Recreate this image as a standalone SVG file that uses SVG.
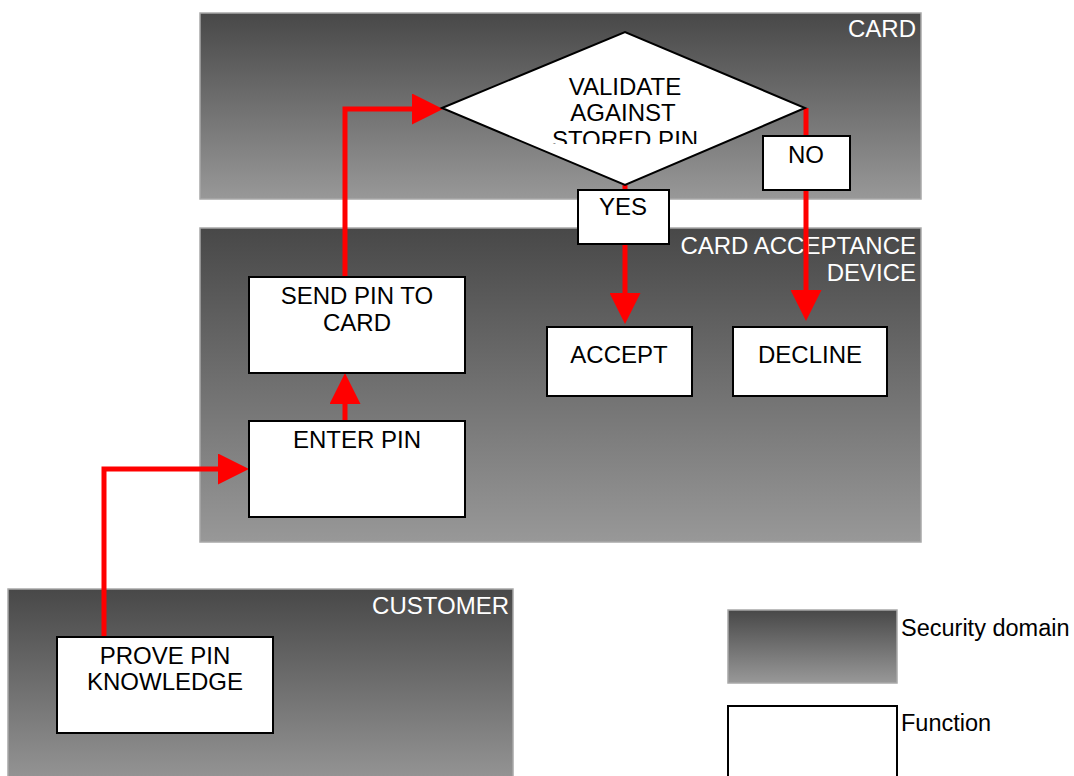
<svg xmlns="http://www.w3.org/2000/svg" width="1074" height="776" viewBox="0 0 1074 776">
<style>
.dom{fill:url(#g);stroke:#a8a8a8;stroke-width:1.5}
.fn{fill:#fff;stroke:#000;stroke-width:2}
.t{font-family:"Liberation Sans",Arial,sans-serif;font-size:24px;fill:#000}
.m{text-anchor:middle}
.e{text-anchor:end}
.w{fill:#fff}
.c{fill:none;stroke:#ff0000;stroke-width:5;marker-end:url(#ah)}
.leg{font-family:"Liberation Sans",Arial,sans-serif;font-size:23.5px;fill:#000}
</style>
<defs>
<linearGradient id="g" x1="0" y1="0" x2="0" y2="1">
<stop offset="0" stop-color="#484848"/>
<stop offset="1" stop-color="#989898"/>
</linearGradient>
<marker id="ah" markerUnits="userSpaceOnUse" markerWidth="31" markerHeight="31" viewBox="0 0 31 31" refX="0" refY="15.5" orient="auto">
<path d="M0,0 L31,15.5 L0,31 z" fill="#ff0000"/>
</marker>
<clipPath id="dc"><rect x="520" y="60" width="210" height="84"/></clipPath>
</defs>

<g id="domain-card">
<rect class="dom" x="200" y="13" width="721" height="186"/>
<text class="t w e" x="916" y="37">CARD</text>
</g>
<g id="domain-cad">
<rect class="dom" x="200" y="228" width="721" height="314"/>
<text class="t w e" x="916" y="254">CARD ACCEPTANCE</text>
<text class="t w e" x="916" y="281">DEVICE</text>
</g>
<g id="domain-customer">
<rect class="dom" x="8" y="589" width="505" height="200"/>
<text class="t w e" x="509" y="614">CUSTOMER</text>
</g>

<g id="connectors">
<path class="c" d="M104,637 V469 H218"/>
<path class="c" d="M345,420 V404"/>
<path class="c" d="M345,276 V109 H412"/>
<path class="c" d="M625,185 V293"/>
<path class="c" d="M806,108 V290"/>
</g>

<g id="node-validate">
<polygon class="fn" points="442,108 625,32 805,108 625,185"/>
<g clip-path="url(#dc)">
<text class="t m" x="625" y="95">VALIDATE</text>
<text class="t m" x="623" y="121">AGAINST</text>
<text class="t m" x="625" y="148">STORED PIN</text>
</g>
</g>
<g id="node-send">
<rect class="fn" x="249" y="277" width="216" height="96"/>
<text class="t m" x="357" y="304">SEND PIN TO</text>
<text class="t m" x="357" y="331">CARD</text>
</g>
<g id="node-enter">
<rect class="fn" x="249" y="421" width="216" height="96"/>
<text class="t m" x="357" y="448">ENTER PIN</text>
</g>
<g id="node-accept">
<rect class="fn" x="547" y="327" width="145" height="69"/>
<text class="t m" x="619" y="363">ACCEPT</text>
</g>
<g id="node-decline">
<rect class="fn" x="733" y="327" width="154" height="69"/>
<text class="t m" x="810" y="363">DECLINE</text>
</g>
<g id="node-prove">
<rect class="fn" x="57" y="637" width="216" height="96"/>
<text class="t m" x="165" y="664">PROVE PIN</text>
<text class="t m" x="165" y="690">KNOWLEDGE</text>
</g>

<g id="label-yes">
<rect class="fn" x="578" y="190" width="91" height="54"/>
<text class="t m" x="623" y="215">YES</text>
</g>
<g id="label-no">
<rect class="fn" x="763" y="136" width="87" height="54"/>
<text class="t m" x="806" y="163">NO</text>
</g>

<g id="legend">
<rect class="dom" x="728" y="610" width="169" height="73"/>
<text class="leg" x="901" y="636">Security domain</text>
<rect class="fn" x="728" y="706" width="169" height="80"/>
<text class="leg" x="901" y="731">Function</text>
</g>
</svg>
